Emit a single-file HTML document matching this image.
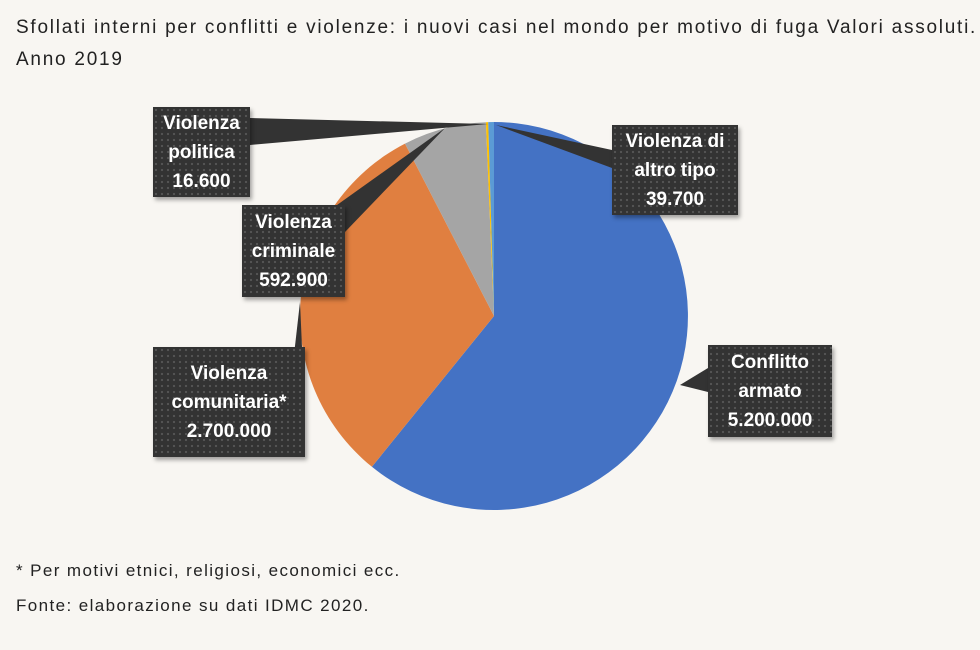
<!DOCTYPE html>
<html><head><meta charset="utf-8"><style>
body{margin:0;width:980px;height:650px;background:#f8f6f2;font-family:"Liberation Sans",sans-serif;position:relative;overflow:hidden}
.t{position:absolute;left:16px;font-size:19px;color:#222;letter-spacing:1.75px;white-space:nowrap}
.f{position:absolute;left:16px;font-size:17px;color:#222;letter-spacing:1.4px;white-space:nowrap}
.b{position:absolute;background-color:#333;background-image:radial-gradient(#555 1px,transparent 1.3px);background-size:6px 6px;color:#fff;font-weight:bold;font-size:19px;line-height:29px;text-align:center;box-shadow:2px 3px 4px rgba(0,0,0,.35);display:flex;align-items:center;justify-content:center;white-space:nowrap}
</style></head><body>
<div class="t" style="top:17px">Sfollati interni per conflitti e violenze: i nuovi casi nel mondo per motivo di fuga Valori assoluti.</div>
<div class="t" style="top:49px">Anno 2019</div>
<svg width="980" height="650" style="position:absolute;left:0;top:0">
<g id="pie"></g>
<polygon points="250,118 250,145 488,124" fill="#333"/>
<polygon points="330,210 345,232 445,128" fill="#333"/>
<polygon points="290,390 305,415 300,302" fill="#333"/>
<polygon points="612,150 612,168 496,125" fill="#333"/>
<polygon points="708,368 708,392 680,385" fill="#333"/>
</svg>
<div class="b" style="left:153px;top:107px;width:97px;height:90px">Violenza<br>politica<br>16.600</div>
<div class="b" style="left:242px;top:205px;width:103px;height:92px">Violenza<br>criminale<br>592.900</div>
<div class="b" style="left:153px;top:347px;width:152px;height:110px">Violenza<br>comunitaria*<br>2.700.000</div>
<div class="b" style="left:612px;top:125px;width:126px;height:90px">Violenza di<br>altro tipo<br>39.700</div>
<div class="b" style="left:708px;top:345px;width:124px;height:92px">Conflitto<br>armato<br>5.200.000</div>
<div class="f" style="top:561px">* Per motivi etnici, religiosi, economici ecc.</div>
<div class="f" style="top:596px">Fonte: elaborazione su dati IDMC 2020.</div>
<script>
var cx=494,cy=316,r=194,segs=[[0,219,"#4472c4"],[219,332.7,"#e07f40"],[332.7,357.6,"#a5a5a5"],[357.6,358.3,"#ffc000"],[358.3,360,"#5b9bd5"]],h="";
function p(a){a=a*Math.PI/180;return (cx+r*Math.sin(a)).toFixed(1)+","+(cy-r*Math.cos(a)).toFixed(1)}
segs.forEach(function(s){h+='<path d="M'+cx+','+cy+' L'+p(s[0])+' A'+r+','+r+' 0 '+(s[1]-s[0]>180?1:0)+' 1 '+p(s[1])+' Z" fill="'+s[2]+'"/>'});
document.getElementById("pie").innerHTML=h;
</script>
</body></html>
